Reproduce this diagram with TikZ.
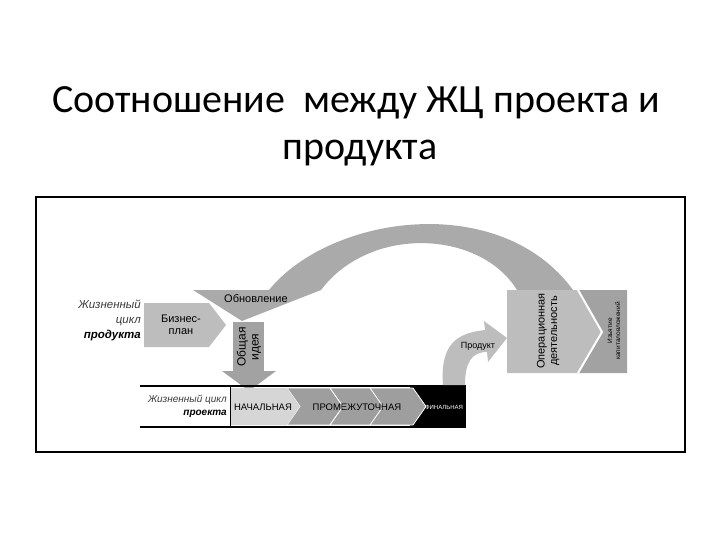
\documentclass[tikz,border=0pt]{standalone}
\usepackage{fontspec}
\setmainfont{Liberation Sans}
\newfontfamily\titlefont{Carlito}
\usetikzlibrary{positioning}
\definecolor{palegray}{HTML}{D6D6D6}
\definecolor{boxgray}{HTML}{BDBDBD}
\definecolor{arcgray}{HTML}{AAAAAA}
\definecolor{midgray}{HTML}{9E9E9E}
\definecolor{darkgray}{HTML}{A2A2A2}
\definecolor{inkgray}{HTML}{3A3A3A}

\begin{document}
\begin{tikzpicture}[x=1pt, y=-1pt,
  lbl/.style={font=\fontsize{11}{12.5}\selectfont, align=center, inner sep=0pt},
  small/.style={font=\fontsize{9.5}{10}\selectfont, inner sep=0pt},
  lcname/.style={font=\fontsize{11.5}{15}\selectfont\itshape, align=right, inner sep=0pt, text=inkgray},
  chevron/.style={fill=midgray, draw=white, line width=0.8pt},
]

\useasboundingbox (0,0) rectangle (720,540);

% Title
\node[font=\titlefont\fontsize{40}{48}\selectfont, anchor=base] (title1) at (356,113) {Соотношение~ между ЖЦ проекта и};
\node[font=\titlefont\fontsize{40}{48}\selectfont, anchor=base] (title2) at (360,160) {продукта};

% Frame
\draw[line width=1.5pt] (36,197) rectangle (685,452);

% Big renewal arc
\fill[arcgray] (269,290) .. controls (330,215) and (500,190) .. (573,290)
  -- (517,290) .. controls (480,230) and (370,225) .. (321,290) -- cycle;
\fill[arcgray] (193,290) -- (321,290) -- (242,321) -- cycle;
\node[lbl] (renew) at (256,299) {Обновление};

% Product life cycle
\node[lcname, anchor=north east] (prodlc) at (141,300) {Жизненный\\цикл\\\textbf{\color{black}продукта}};

% Business plan
\fill[boxgray] (144,303) -- (209,303) -- (226,325) -- (209,347) -- (144,347) -- cycle;
\node[lbl] (bplan) at (181,325) {Бизнес-\\план};

% General idea
\fill[darkgray] (233,322) rectangle (264,372);
\fill[darkgray] (222,371) -- (276,371) -- (249,391) -- cycle;
\node[lbl, font=\fontsize{12}{13}\selectfont, rotate=90] (idea) at (249,347) {Общая\\идея};

% Project life cycle bar
\fill[black] (410,385) rectangle (466,428);
\foreach \sx in {287,330,370}
  \filldraw[chevron] (\sx,388) -- (\sx+43,388) -- (\sx+56,406.5) -- (\sx+43,425) -- (\sx,425) -- (\sx+13,406.5) -- cycle;
\fill[palegray] (230,388) -- (287,388) -- (300,406.5) -- (287,425) -- (230,425) -- cycle;
\draw[line width=2.5pt] (140,386) -- (466,386);
\draw[line width=2.5pt] (140,427) -- (466,427);
\draw[line width=0.8pt] (230,386) -- (230,427);
\node[lcname, font=\fontsize{10}{13}\selectfont\itshape, anchor=east] (projlc) at (227,406) {Жизненный цикл\\\textbf{\color{black}проекта}};
\node[small] (initial) at (263,407) {НАЧАЛЬНАЯ};
\node[small] (middle) at (357,407) {ПРОМЕЖУТОЧНАЯ};
\node[small, font=\fontsize{6}{7}\selectfont, text=white] (final) at (444,407) {ФИНАЛЬНАЯ};

% Product arrow
\fill[boxgray] (443,385) .. controls (440,345) and (456,333) .. (485,330)
  -- (484,321) -- (507,338) -- (488,362) -- (487,352)
  .. controls (472,352) and (465,362) .. (465,385) -- cycle;
\node[small, font=\fontsize{9}{10}\selectfont] (product) at (478,346) {Продукт};

% Operation and withdrawal
\fill[boxgray] (507,290) -- (578,290) -- (602,332) -- (578,373) -- (507,373) -- cycle;
\fill[darkgray] (578,290) -- (627,290) -- (627,373) -- (578,373) -- (602,332) -- cycle;
\draw[white, line width=2pt] (578,290) -- (602,332) -- (578,373);
\node[lbl, rotate=90] (oper) at (548,331) {Операционная\\деятельность};
\node[lbl, font=\fontsize{6.5}{8}\selectfont, rotate=90] (withdraw) at (614,331) {Изъятие\\капиталовложений};

\end{tikzpicture}
\end{document}
